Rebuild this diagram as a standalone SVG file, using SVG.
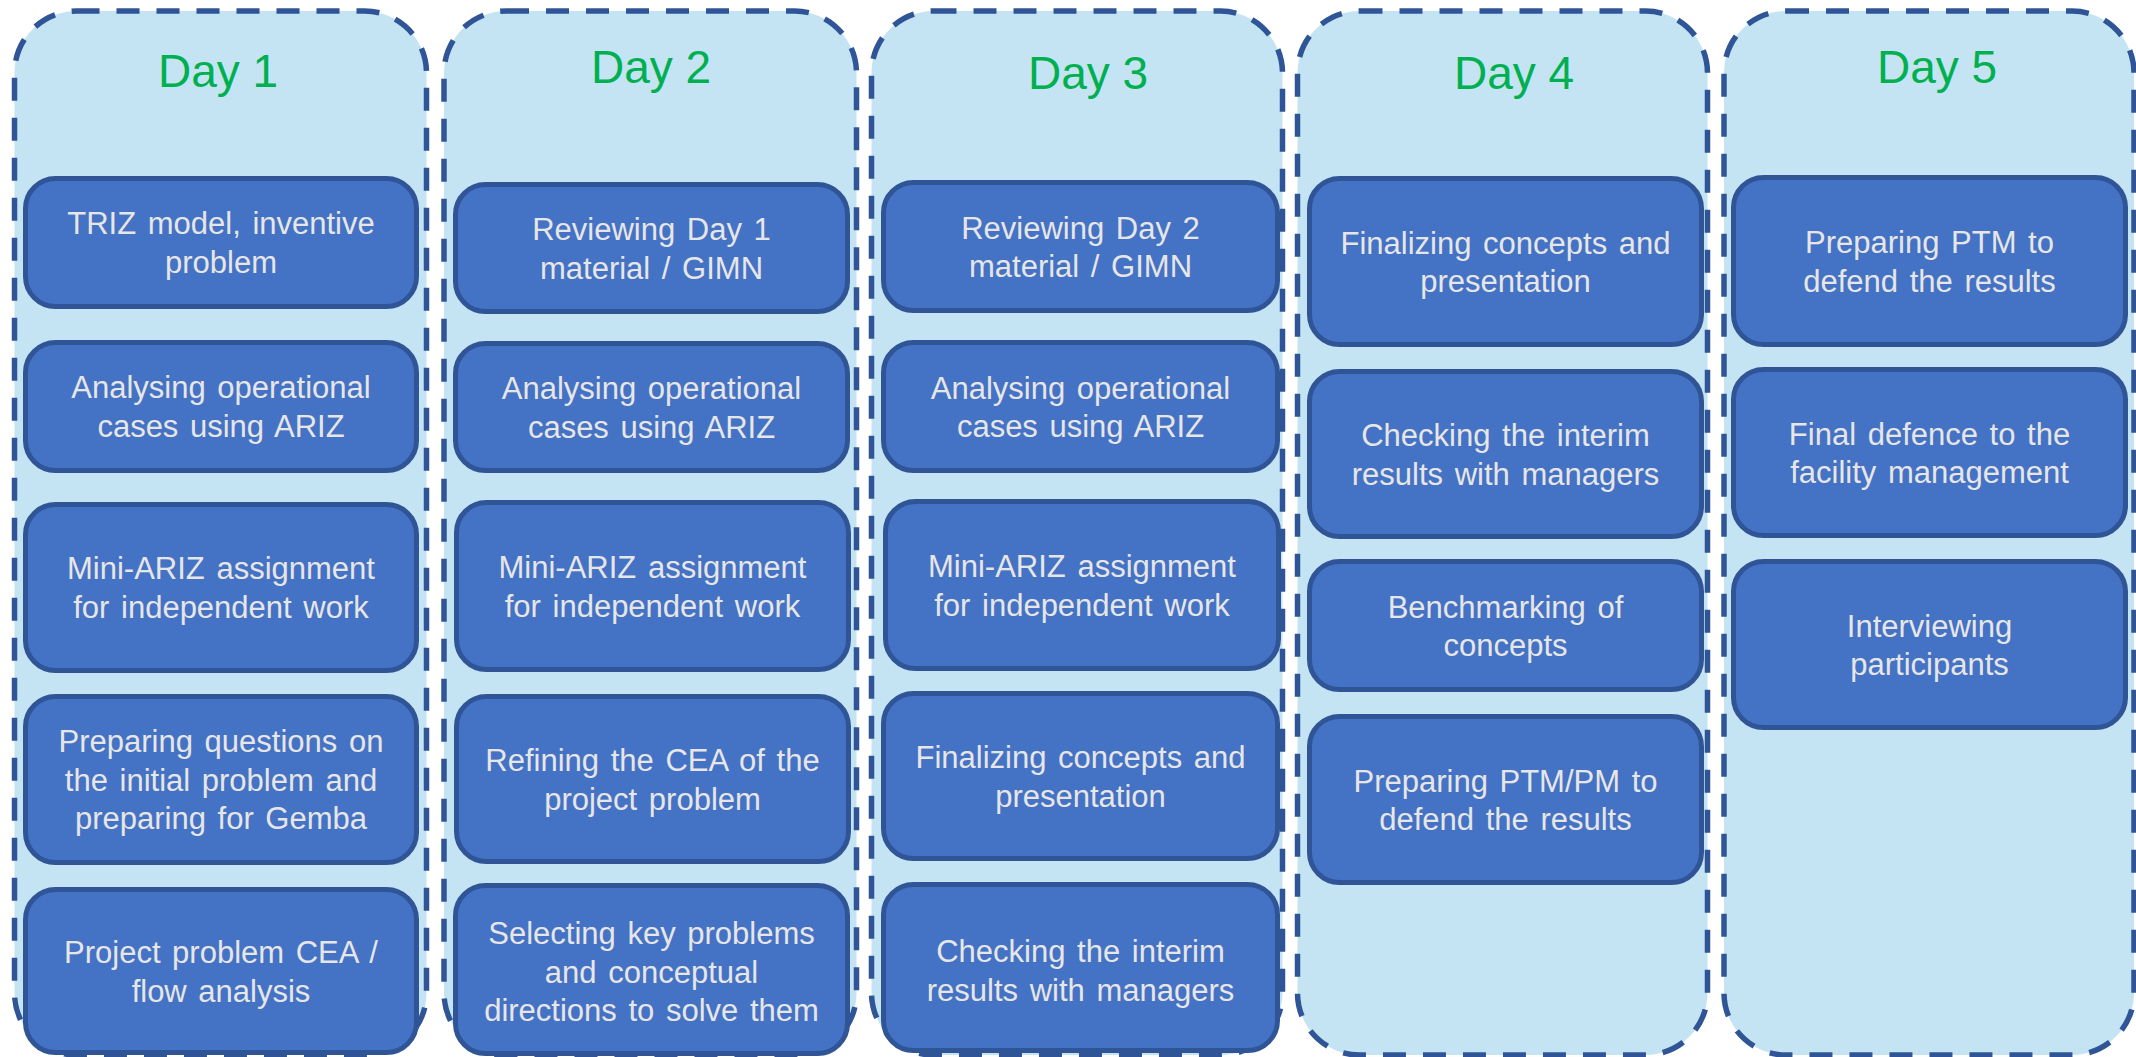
<svg xmlns="http://www.w3.org/2000/svg" width="2136" height="1057" viewBox="0 0 2136 1057">
<style>
.col{fill:#C4E4F4;stroke:#2F5597;stroke-width:5.5;stroke-dasharray:23 17}
.box{fill:#4472C4;stroke:#2F5597;stroke-width:5}
.title{font-family:"Liberation Sans",Arial,sans-serif;font-size:46px;fill:#00B050;text-anchor:middle}
.t{font-family:"Liberation Sans",Arial,sans-serif;font-size:31px;fill:#E7E6E6;text-anchor:middle;word-spacing:3px}
</style>
<rect width="2136" height="1057" fill="#FFFFFF"/>
<g id="columns">
<rect id="col-day1" class="col" x="14.5" y="11" width="412" height="1044" rx="62"/>
<rect id="col-day2" class="col" x="444" y="11" width="412.5" height="1044" rx="62"/>
<rect id="col-day3" class="col" x="871.5" y="11" width="411" height="1044" rx="62"/>
<rect id="col-day4" class="col" x="1297.5" y="11" width="410" height="1044" rx="62"/>
<rect id="col-day5" class="col" x="1724" y="11" width="410" height="1044" rx="62"/>
</g>
<g id="titles">
<text class="title" x="218" y="87">Day 1</text>
<text class="title" x="651" y="83">Day 2</text>
<text class="title" x="1088" y="89">Day 3</text>
<text class="title" x="1514" y="89">Day 4</text>
<text class="title" x="1937" y="83">Day 5</text>
</g>
<g id="connectors"></g>
<!-- Day 1 -->
<g id="d1-b1"><rect class="box" x="25.5" y="178.5" width="391" height="128" rx="30"/><text class="t" x="221" y="234">TRIZ model,  inventive</text><text class="t" x="221" y="272.5">problem</text></g>
<g id="d1-b2"><rect class="box" x="25.5" y="342.5" width="391" height="128" rx="30"/><text class="t" x="221" y="398">Analysing operational</text><text class="t" x="221" y="437">cases using ARIZ</text></g>
<g id="d1-b3"><rect class="box" x="25.5" y="504.5" width="391" height="166" rx="30"/><text class="t" x="221" y="579">Mini-ARIZ assignment</text><text class="t" x="221" y="618">for independent work</text></g>
<g id="d1-b4"><rect class="box" x="25.5" y="696.5" width="391" height="166" rx="30"/><text class="t" x="221" y="752">Preparing questions on</text><text class="t" x="221" y="790.5">the initial problem and</text><text class="t" x="221" y="829">preparing for Gemba</text></g>
<g id="d1-b5"><rect class="box" x="25.5" y="889.5" width="391" height="163" rx="30"/><text class="t" x="221" y="963">Project problem CEA /</text><text class="t" x="221" y="1001.5">flow analysis</text></g>
<!-- Day 2 -->
<g id="d2-b1"><rect class="box" x="455.5" y="184.5" width="392" height="127" rx="30"/><text class="t" x="651.5" y="240">Reviewing Day 1</text><text class="t" x="651.5" y="278.5">material / GIMN</text></g>
<g id="d2-b2"><rect class="box" x="455.5" y="343.5" width="392" height="127" rx="30"/><text class="t" x="651.5" y="399">Analysing operational</text><text class="t" x="651.5" y="437.5">cases using ARIZ</text></g>
<g id="d2-b3"><rect class="box" x="456.5" y="502.5" width="392" height="167" rx="30"/><text class="t" x="652.5" y="578">Mini-ARIZ assignment</text><text class="t" x="652.5" y="616.5">for independent work</text></g>
<g id="d2-b4"><rect class="box" x="456.5" y="696.5" width="392" height="165" rx="30"/><text class="t" x="652.5" y="771">Refining the CEA of the</text><text class="t" x="652.5" y="809.5">project problem</text></g>
<g id="d2-b5"><rect class="box" x="455.5" y="885.5" width="392" height="168" rx="30"/><text class="t" x="651.5" y="944">Selecting key problems</text><text class="t" x="651.5" y="982.5">and conceptual</text><text class="t" x="651.5" y="1021">directions to solve them</text></g>
<!-- Day 3 -->
<g id="d3-b1"><rect class="box" x="883.5" y="182.5" width="394" height="128" rx="30"/><text class="t" x="1080.5" y="238.5">Reviewing Day 2</text><text class="t" x="1080.5" y="277">material / GIMN</text></g>
<g id="d3-b2"><rect class="box" x="883.5" y="342.5" width="394" height="128" rx="30"/><text class="t" x="1080.5" y="398.5">Analysing operational</text><text class="t" x="1080.5" y="437">cases using ARIZ</text></g>
<g id="d3-b3"><rect class="box" x="885.5" y="501.5" width="393" height="167" rx="30"/><text class="t" x="1082" y="577">Mini-ARIZ assignment</text><text class="t" x="1082" y="615.5">for independent work</text></g>
<g id="d3-b4"><rect class="box" x="883.5" y="693.5" width="394" height="165" rx="30"/><text class="t" x="1080.5" y="768">Finalizing concepts and</text><text class="t" x="1080.5" y="806.5">presentation</text></g>
<g id="d3-b5"><rect class="box" x="883.5" y="884.5" width="394" height="166" rx="30"/><text class="t" x="1080.5" y="962">Checking the interim</text><text class="t" x="1080.5" y="1000.5">results with managers</text></g>
<!-- Day 4 -->
<g id="d4-b1"><rect class="box" x="1309.5" y="178.5" width="392" height="166" rx="30"/><text class="t" x="1505.5" y="253.5">Finalizing concepts and</text><text class="t" x="1505.5" y="292">presentation</text></g>
<g id="d4-b2"><rect class="box" x="1309.5" y="371.5" width="392" height="165" rx="30"/><text class="t" x="1505.5" y="446">Checking the interim</text><text class="t" x="1505.5" y="484.5">results with managers</text></g>
<g id="d4-b3"><rect class="box" x="1309.5" y="561.5" width="392" height="128" rx="30"/><text class="t" x="1505.5" y="617.5">Benchmarking of</text><text class="t" x="1505.5" y="656">concepts</text></g>
<g id="d4-b4"><rect class="box" x="1309.5" y="716.5" width="392" height="166" rx="30"/><text class="t" x="1505.5" y="791.5">Preparing PTM/PM to</text><text class="t" x="1505.5" y="830">defend the results</text></g>
<!-- Day 5 -->
<g id="d5-b1"><rect class="box" x="1733.5" y="177.5" width="392" height="167" rx="30"/><text class="t" x="1929.5" y="253">Preparing PTM to</text><text class="t" x="1929.5" y="291.5">defend the results</text></g>
<g id="d5-b2"><rect class="box" x="1733.5" y="369.5" width="392" height="166" rx="30"/><text class="t" x="1929.5" y="444.5">Final defence to the</text><text class="t" x="1929.5" y="483">facility management</text></g>
<g id="d5-b3"><rect class="box" x="1733.5" y="561.5" width="392" height="166" rx="30"/><text class="t" x="1929.5" y="636.5">Interviewing</text><text class="t" x="1929.5" y="675">participants</text></g>
</svg>
